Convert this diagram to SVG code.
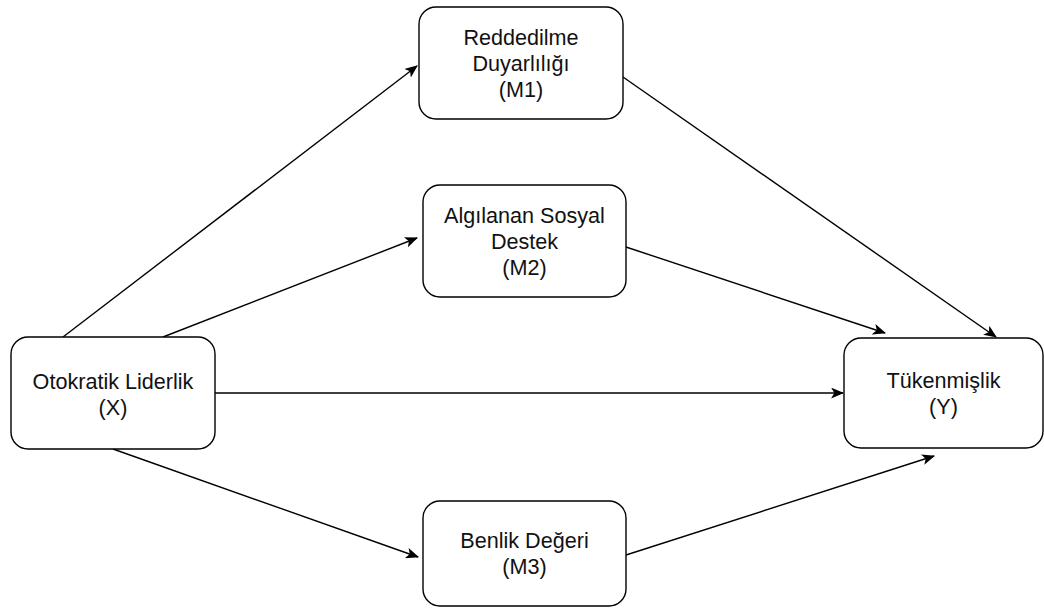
<svg xmlns="http://www.w3.org/2000/svg" width="1044" height="609" viewBox="0 0 1044 609">
<style>
.box{fill:#fff;stroke:#000;stroke-width:1.4}
.lbl{font-family:"Liberation Sans",Arial,sans-serif;font-size:21.6px;fill:#111;text-anchor:middle}
.edge{fill:none;stroke:#000;stroke-width:1.4}
</style>
<defs>
<marker id="arr" viewBox="0 0 12 10" refX="11" refY="5" markerWidth="13" markerHeight="11" markerUnits="userSpaceOnUse" orient="auto">
<path d="M0,0 L12,5 L0,10 L3,5 Z" fill="#000"/>
</marker>
</defs>
<rect width="1044" height="609" fill="#fff"/>
<g id="connectors">
<line class="edge" x1="63" y1="337" x2="417" y2="66" marker-end="url(#arr)"/>
<line class="edge" x1="163" y1="337" x2="417" y2="238" marker-end="url(#arr)"/>
<line class="edge" x1="215" y1="393" x2="843" y2="393" marker-end="url(#arr)"/>
<line class="edge" x1="113" y1="449" x2="418" y2="557" marker-end="url(#arr)"/>
<line class="edge" x1="623" y1="77" x2="996" y2="337" marker-end="url(#arr)"/>
<line class="edge" x1="626" y1="247" x2="885" y2="333" marker-end="url(#arr)"/>
<line class="edge" x1="626" y1="555" x2="934" y2="456" marker-end="url(#arr)"/>
</g>
<g id="nodeX">
<rect class="box" x="11" y="337" width="204" height="112" rx="17"/>
<text class="lbl" x="113" y="389">Otokratik Liderlik</text>
<text class="lbl" x="113" y="415">(X)</text>
</g>
<g id="nodeM1">
<rect class="box" x="419" y="7" width="204" height="112" rx="17"/>
<text class="lbl" x="521" y="45">Reddedilme</text>
<text class="lbl" x="521" y="71">Duyarlılığı</text>
<text class="lbl" x="521" y="97">(M1)</text>
</g>
<g id="nodeM2">
<rect class="box" x="423" y="185" width="203" height="112" rx="17"/>
<text class="lbl" x="524.5" y="223">Algılanan Sosyal</text>
<text class="lbl" x="524.5" y="249">Destek</text>
<text class="lbl" x="524.5" y="275">(M2)</text>
</g>
<g id="nodeM3">
<rect class="box" x="423" y="501" width="203" height="105" rx="17"/>
<text class="lbl" x="524.5" y="548">Benlik Değeri</text>
<text class="lbl" x="524.5" y="574">(M3)</text>
</g>
<g id="nodeY">
<rect class="box" x="844" y="338" width="199" height="110" rx="17"/>
<text class="lbl" x="943.5" y="388">Tükenmişlik</text>
<text class="lbl" x="943.5" y="414">(Y)</text>
</g>
</svg>
